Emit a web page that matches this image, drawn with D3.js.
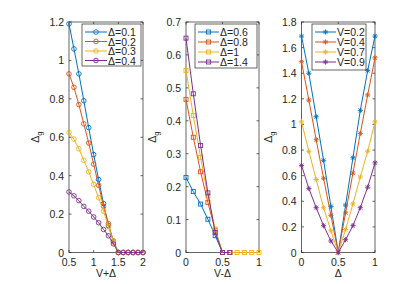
<!DOCTYPE html>
<html>
<head>
<meta charset="utf-8">
<script src="https://cdn.jsdelivr.net/npm/d3@7"></script>
<style>
  body { margin: 0; background: #fff; }
  svg text { font-family: "Liberation Sans", Arial, sans-serif; fill: #262626; }
</style>
</head>
<body>
<div id="chart"></div>
<script>
// panel 1: Δg vs V+Δ
const xPlus = [0.5, 0.6, 0.7, 0.8, 0.9, 1.0, 1.1, 1.2, 1.3, 1.4, 1.5, 1.6, 1.7, 1.8, 1.9, 2.0];
const gD01 = [1.19, 1.06, 0.93, 0.79, 0.65, 0.51, 0.38, 0.255, 0.14, 0.06, 0, 0, 0, 0, 0, 0];
const gD02 = [0.93, 0.86, 0.77, 0.67, 0.57, 0.46, 0.35, 0.24, 0.15, 0.055, 0, 0, 0, 0, 0, 0];
const gD03 = [0.625, 0.59, 0.54, 0.48, 0.42, 0.355, 0.285, 0.215, 0.135, 0.06, 0, 0, 0, 0, 0, 0];
const gD04 = [0.315, 0.295, 0.27, 0.24, 0.215, 0.185, 0.155, 0.12, 0.087, 0.045, 0, 0, 0, 0, 0, 0];
const labels1 = ['Δ=0.1', 'Δ=0.2', 'Δ=0.3', 'Δ=0.4'];
const xTicks1 = [0.5, 1, 1.5, 2];
const yTicks1 = [0, 0.2, 0.4, 0.6, 0.8, 1, 1.2];

// panel 2: Δg vs V-Δ
const xMinus = [0, 0.1, 0.2, 0.3, 0.4, 0.5, 0.6, 0.7, 0.8, 0.9, 1.0];
const gD06 = [0.228, 0.185, 0.147, 0.101, 0.051, 0, 0];
const gD08 = [0.465, 0.35, 0.245, 0.152, 0.068, 0, 0];
const gD10 = [0.553, 0.416, 0.289, 0.172, 0.071, 0, 0, 0, 0, 0, 0];
const gD14 = [0.651, 0.482, 0.325, 0.181, 0.061, 0, 0];
const labels2 = ['Δ=0.6', 'Δ=0.8', 'Δ=1', 'Δ=1.4'];
const xTicks2 = [0, 0.5, 1];
const yTicks2 = [0, 0.1, 0.2, 0.3, 0.4, 0.5, 0.6, 0.7];

// panel 3: Δg vs Δ
const xDelta = [0, 0.1, 0.2, 0.3, 0.4, 0.5, 0.6, 0.7, 0.8, 0.9, 1.0];
const gV02 = [1.69, 1.40, 1.06, 0.72, 0.36, 0, 0.37, 0.74, 1.11, 1.42, 1.69];
const gV04 = [1.49, 1.19, 0.88, 0.58, 0.29, 0, 0.31, 0.62, 0.93, 1.23, 1.52];
const gV07 = [1.02, 0.79, 0.57, 0.35, 0.17, 0, 0.18, 0.38, 0.59, 0.79, 1.02];
const gV09 = [0.68, 0.50, 0.35, 0.21, 0.09, 0, 0.10, 0.21, 0.35, 0.51, 0.70];
const labels3 = ['V=0.2', 'V=0.4', 'V=0.7', 'V=0.9'];
const xTicks3 = [0, 0.5, 1];
const yTicks3 = [0, 0.2, 0.4, 0.6, 0.8, 1, 1.2, 1.4, 1.6, 1.8];

const colors = ['#0072BD', '#D95319', '#EDB120', '#7E2F8E'];
const axisColor = '#262626';
const fontSize = 10.5;

const panels = [
  { x0: 69, x1: 143, xDomain: [0.5, 2], yDomain: [0, 1.2], xs: xPlus,
    series: [gD01, gD02, gD03, gD04], labels: labels1, xTicks: xTicks1, yTicks: yTicks1,
    marker: 'circle', xLabel: 'V+Δ',
    legend: { x: 82, y: 24, w: 59, h: 42, rowH: 9.5, lineW: 22 } },
  { x0: 186, x1: 259, xDomain: [0, 1], yDomain: [0, 0.7], xs: xMinus,
    series: [gD06, gD08, gD10, gD14], labels: labels2, xTicks: xTicks2, yTicks: yTicks2,
    marker: 'square', xLabel: 'V-Δ',
    legend: { x: 195, y: 24, w: 62, h: 44, rowH: 10, lineW: 21 } },
  { x0: 301.5, x1: 375, xDomain: [0, 1], yDomain: [0, 1.8], xs: xDelta,
    series: [gV02, gV04, gV07, gV09], labels: labels3, xTicks: xTicks3, yTicks: yTicks3,
    marker: 'star', xLabel: 'Δ',
    legend: { x: 312, y: 24, w: 54, h: 46, rowH: 10, lineW: 21 } }
];

const plotTop = 22, plotBottom = 252.5;

const svg = d3.select('#chart').append('svg')
  .attr('width', 415)
  .attr('height', 284);

function drawMarker(g, type, cx, cy, color) {
  if (type === 'circle') {
    g.append('circle').attr('cx', cx).attr('cy', cy).attr('r', 2.3)
      .attr('fill', 'none').attr('stroke', color).attr('stroke-width', 0.9);
  } else if (type === 'square') {
    g.append('rect').attr('x', cx - 2).attr('y', cy - 2).attr('width', 4).attr('height', 4)
      .attr('fill', 'none').attr('stroke', color).attr('stroke-width', 0.9);
  } else {
    const r = 2.6, d = r * 0.72;
    g.append('path')
      .attr('d', `M${cx - r},${cy}L${cx + r},${cy}M${cx},${cy - r}L${cx},${cy + r}` +
        `M${cx - d},${cy - d}L${cx + d},${cy + d}M${cx - d},${cy + d}L${cx + d},${cy - d}`)
      .attr('stroke', color).attr('stroke-width', 0.9).attr('fill', 'none');
  }
}

panels.forEach(p => {
  const x = d3.scaleLinear().domain(p.xDomain).range([p.x0, p.x1]);
  const y = d3.scaleLinear().domain(p.yDomain).range([plotBottom, plotTop]);
  const g = svg.append('g');

  // box + inward ticks on all four sides
  g.append('rect')
    .attr('x', p.x0).attr('y', plotTop)
    .attr('width', p.x1 - p.x0).attr('height', plotBottom - plotTop)
    .attr('fill', 'none').attr('stroke', axisColor).attr('stroke-width', 0.7);

  const tl = 2.5;
  p.xTicks.forEach(t => {
    g.append('line').attr('x1', x(t)).attr('x2', x(t)).attr('y1', plotBottom).attr('y2', plotBottom - tl)
      .attr('stroke', axisColor).attr('stroke-width', 0.7);
    g.append('line').attr('x1', x(t)).attr('x2', x(t)).attr('y1', plotTop).attr('y2', plotTop + tl)
      .attr('stroke', axisColor).attr('stroke-width', 0.7);
    g.append('text').attr('x', x(t)).attr('y', plotBottom + 13)
      .attr('text-anchor', 'middle').attr('font-size', fontSize).text(t);
  });
  p.yTicks.forEach(t => {
    g.append('line').attr('x1', p.x0).attr('x2', p.x0 + tl).attr('y1', y(t)).attr('y2', y(t))
      .attr('stroke', axisColor).attr('stroke-width', 0.7);
    g.append('line').attr('x1', p.x1).attr('x2', p.x1 - tl).attr('y1', y(t)).attr('y2', y(t))
      .attr('stroke', axisColor).attr('stroke-width', 0.7);
    g.append('text').attr('x', p.x0 - 5).attr('y', y(t) + 4)
      .attr('text-anchor', 'end').attr('font-size', fontSize).text(t);
  });

  // axis labels
  g.append('text').attr('x', (p.x0 + p.x1) / 2).attr('y', plotBottom + 24.5)
    .attr('text-anchor', 'middle').attr('font-size', fontSize).text(p.xLabel);
  const yl = g.append('text')
    .attr('transform', `translate(${p.x0 - 30},${(plotTop + plotBottom) / 2}) rotate(-90)`)
    .attr('text-anchor', 'middle').attr('font-size', fontSize);
  yl.append('tspan').text('Δ');
  yl.append('tspan').attr('dy', 3).attr('font-size', 7.5).text('g');

  // series
  const line = d3.line().x(d => x(d[0])).y(d => y(d[1]));
  p.series.forEach((vals, i) => {
    const pts = vals.map((v, j) => [p.xs[j], v]);
    g.append('path').datum(pts).attr('d', line)
      .attr('fill', 'none').attr('stroke', colors[i]).attr('stroke-width', 1);
    pts.forEach(d => drawMarker(g, p.marker, x(d[0]), y(d[1]), colors[i]));
  });

  // legend
  const L = p.legend;
  g.append('rect').attr('x', L.x).attr('y', L.y).attr('width', L.w).attr('height', L.h)
    .attr('fill', '#fff').attr('stroke', axisColor).attr('stroke-width', 0.7);
  p.labels.forEach((lab, i) => {
    const cy = L.y + 8 + i * L.rowH;
    const lx0 = L.x + 3, lx1 = L.x + 3 + L.lineW;
    g.append('line').attr('x1', lx0).attr('x2', lx1).attr('y1', cy).attr('y2', cy)
      .attr('stroke', colors[i]).attr('stroke-width', 1);
    drawMarker(g, p.marker, (lx0 + lx1) / 2, cy, colors[i]);
    g.append('text').attr('x', lx1 + 1).attr('y', cy + 4)
      .attr('font-size', fontSize).text(lab);
  });
});
</script>
</body>
</html>
